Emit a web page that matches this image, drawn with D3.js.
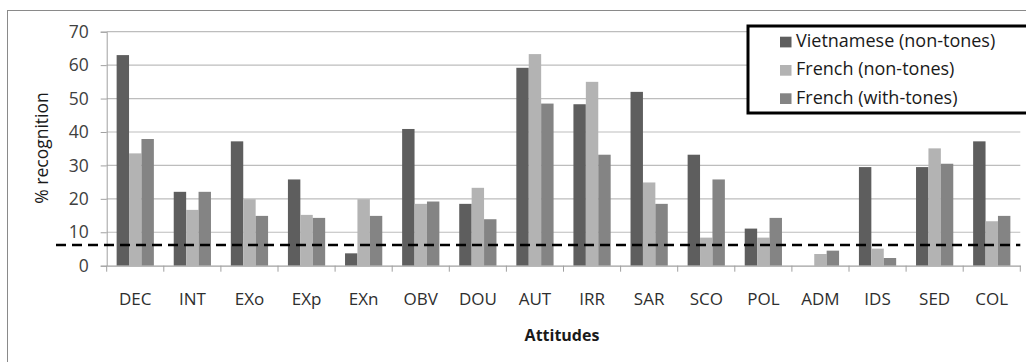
<!DOCTYPE html>
<html>
<head>
<meta charset="utf-8">
<script src="https://cdn.jsdelivr.net/npm/d3@7"></script>
<style>
  html, body { margin: 0; padding: 0; background: #fff; }
  svg { display: block; font-family: "Open Sans", sans-serif; }
</style>
</head>
<body>
<svg id="chart" width="1026" height="362"></svg>
<script>
const categories = ["DEC","INT","EXo","EXp","EXn","OBV","DOU","AUT","IRR","SAR","SCO","POL","ADM","IDS","SED","COL"];
const seriesNames = ["Vietnamese (non-tones)","French (non-tones)","French (with-tones)"];
const vietnameseNonTones = [63.0,22.1,37.2,25.8,3.7,40.9,18.5,59.2,48.3,52.0,33.2,11.1,0,29.5,29.5,37.2];
const frenchNonTones     = [33.6,16.7,19.9,15.2,19.9,18.5,23.3,63.3,55.0,24.9,8.4,8.4,3.5,5.1,35.1,13.3];
const frenchWithTones    = [37.9,22.1,14.9,14.3,14.9,19.2,13.9,48.5,33.2,18.5,25.8,14.3,4.5,2.3,30.5,14.9];
const yTicks = [0,10,20,30,40,50,60,70];
const chanceLevel = 6.2;
const colors = ["#5e5e5e","#b3b3b3","#848484"];

const seriesValues = [vietnameseNonTones, frenchNonTones, frenchWithTones];
const svg = d3.select("#chart");

const plotLeft = 106.7, plotRight = 1020.3, plotTop = 31.7, plotBottom = 265.7;

// outer frame
svg.append("rect").attr("x",7.5).attr("y",10.5).attr("width",1030).attr("height",360)
  .attr("fill","#fff").attr("stroke","#8a8a8a").attr("stroke-width",1);

const x = d3.scaleBand().domain(categories).range([plotLeft, plotRight]).paddingInner(0).paddingOuter(0);
const xs = d3.scaleBand().domain(seriesNames).range([0, x.bandwidth()]).paddingInner(0).paddingOuter(0.8);
const y = d3.scaleLinear().domain([0,70]).range([plotBottom, plotTop]);

// gridlines
svg.append("g").selectAll("line").data(yTicks.filter(d => d > 0)).join("line")
  .attr("x1", plotLeft).attr("x2", plotRight)
  .attr("y1", d => y(d)).attr("y2", d => y(d))
  .attr("stroke", "#bdbdbd").attr("stroke-width", 1.2);

// bars
const groups = svg.append("g").selectAll("g").data(categories).join("g")
  .attr("transform", c => `translate(${x(c)},0)`);
groups.selectAll("rect").data((c, i) => seriesNames.map((s, j) => ({s, j, v: seriesValues[j][i]})))
  .join("rect")
  .attr("x", d => xs(d.s)).attr("width", xs.bandwidth())
  .attr("y", d => y(d.v)).attr("height", d => plotBottom - y(d.v))
  .attr("fill", d => colors[d.j]);

// y axis
const yAxis = d3.axisLeft(y).tickValues(yTicks).tickSize(6).tickPadding(12);
const ga = svg.append("g").attr("transform", `translate(${plotLeft},0)`).call(yAxis);
ga.select(".domain").attr("stroke", "#a0a0a0");
ga.selectAll(".tick line").attr("stroke", "#a0a0a0");
ga.selectAll(".tick text").attr("font-size", 17.5).attr("fill", "#404040").attr("font-family", "Open Sans, sans-serif");

// x axis
const xAxis = d3.axisBottom(x).tickSize(0).tickPadding(27);
const gx = svg.append("g").attr("transform", `translate(0,${plotBottom})`).call(xAxis);
gx.select(".domain").attr("stroke", "#a0a0a0").attr("stroke-width", 1.2);
gx.selectAll(".tick text").attr("font-size", 17).attr("fill", "#2e2e2e").attr("font-family", "Open Sans, sans-serif");
// boundary ticks
svg.append("g").selectAll("line").data(categories.concat(["__end"])).join("line")
  .attr("x1", (c, i) => plotLeft + i * x.step()).attr("x2", (c, i) => plotLeft + i * x.step())
  .attr("y1", plotBottom).attr("y2", plotBottom + 6)
  .attr("stroke", "#a0a0a0");

// chance level dashed line
svg.append("line")
  .attr("x1", 56).attr("x2", plotRight)
  .attr("y1", y(chanceLevel)).attr("y2", y(chanceLevel))
  .attr("stroke", "#000").attr("stroke-width", 2.6).attr("stroke-dasharray", "10,6");

// axis titles
svg.append("text").attr("x", 562).attr("y", 341).attr("text-anchor", "middle")
  .attr("font-size", 16).attr("font-weight", "bold").attr("fill", "#1a1a1a").text("Attitudes");
svg.append("text").attr("transform", "translate(47.5,148) rotate(-90)").attr("text-anchor", "middle")
  .attr("font-size", 17.5).attr("fill", "#1a1a1a").text("% recognition");

// legend
const lg = svg.append("g");
lg.append("rect").attr("x", 748).attr("y", 26).attr("width", 300).attr("height", 87)
  .attr("fill", "#fff").attr("stroke", "#000").attr("stroke-width", 3);
seriesNames.forEach((s, i) => {
  const cy = 42 + i * 28.3;
  lg.append("rect").attr("x", 780).attr("y", cy - 5.3).attr("width", 11.5).attr("height", 10.7).attr("fill", colors[i]);
  lg.append("text").attr("x", 796).attr("y", cy + 5).attr("font-size", 18).attr("fill", "#1a1a1a").text(s);
});
</script>
</body>
</html>
